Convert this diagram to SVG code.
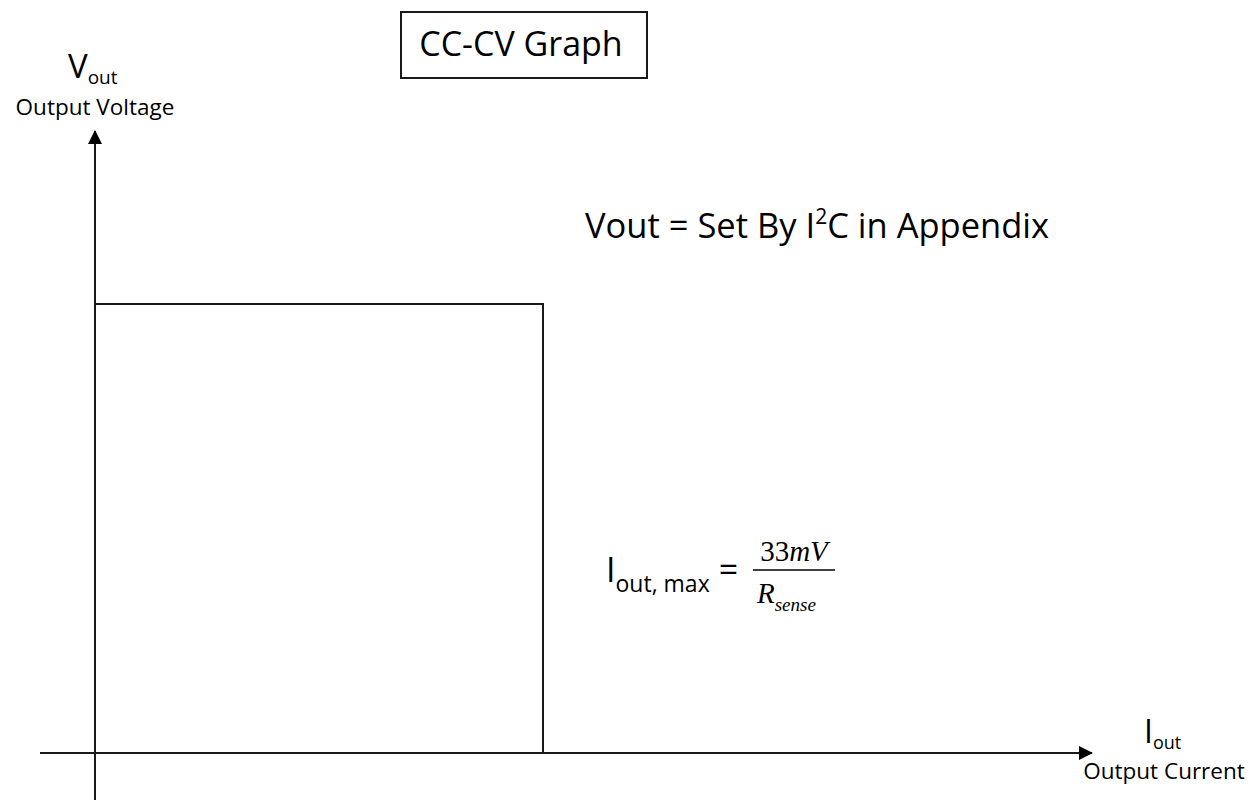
<svg xmlns="http://www.w3.org/2000/svg" width="1251" height="800" viewBox="0 0 1251 800">
  <style>
    .t { font-family: "Open Sans", "Liberation Sans", sans-serif; fill: #000; }
    .m { font-family: "Liberation Serif", "DejaVu Serif", serif; fill: #000; }
    .ax { stroke: #1a1a1a; stroke-width: 2; fill: none; }
    .cv { stroke: #1a1a1a; stroke-width: 2; fill: none; }
  </style>
  <defs>
    <marker id="arr" markerWidth="14" markerHeight="14" refX="13" refY="7" orient="auto" markerUnits="userSpaceOnUse">
      <path d="M0,0 L14,7 L0,14 Z" fill="#000"/>
    </marker>
  </defs>
  <rect width="1251" height="800" fill="#fff"/>

  <g id="title">
    <rect x="401" y="12" width="246" height="66" fill="#fff" stroke="#1a1a1a" stroke-width="2"/>
    <text class="t" x="521" y="56" font-size="34" text-anchor="middle">CC-CV Graph</text>
  </g>

  <g id="connectors">
    <line class="ax" x1="95" y1="800" x2="95" y2="131" marker-end="url(#arr)"/>
    <line class="ax" x1="40" y1="753" x2="1092" y2="753" marker-end="url(#arr)"/>
  </g>

  <g id="cccv-curve">
    <polyline class="cv" points="95,304 543,304 543,753"/>
  </g>

  <g id="y-label">
    <text class="t" x="68" y="78" font-size="33">V<tspan font-size="19" y="84">out</tspan></text>
    <text class="t" x="95" y="115" font-size="22.5" text-anchor="middle">Output Voltage</text>
  </g>

  <g id="x-label">
    <text class="t" x="1144" y="743" font-size="32">I<tspan font-size="18" y="749">out</tspan></text>
    <text class="t" x="1164" y="779" font-size="22.5" text-anchor="middle">Output Current</text>
  </g>

  <g id="vout-note">
    <text class="t" x="585" y="238" font-size="34.5">Vout = Set By I<tspan font-size="21" y="224">2</tspan><tspan y="238">C in Appendix</tspan></text>
  </g>

  <g id="iout-note">
    <text class="t" x="606" y="582" font-size="34">I<tspan font-size="23" y="592">out, max</tspan><tspan y="582" dx="9">=</tspan></text>
    <line x1="753" y1="570" x2="835" y2="570" stroke="#000" stroke-width="1.5"/>
    <text class="m" x="794" y="561" font-size="29" text-anchor="middle">33<tspan font-style="italic">mV</tspan></text>
    <text class="m" x="757" y="603" font-size="29" font-style="italic">R<tspan font-size="19" y="611">sense</tspan></text>
  </g>
</svg>
